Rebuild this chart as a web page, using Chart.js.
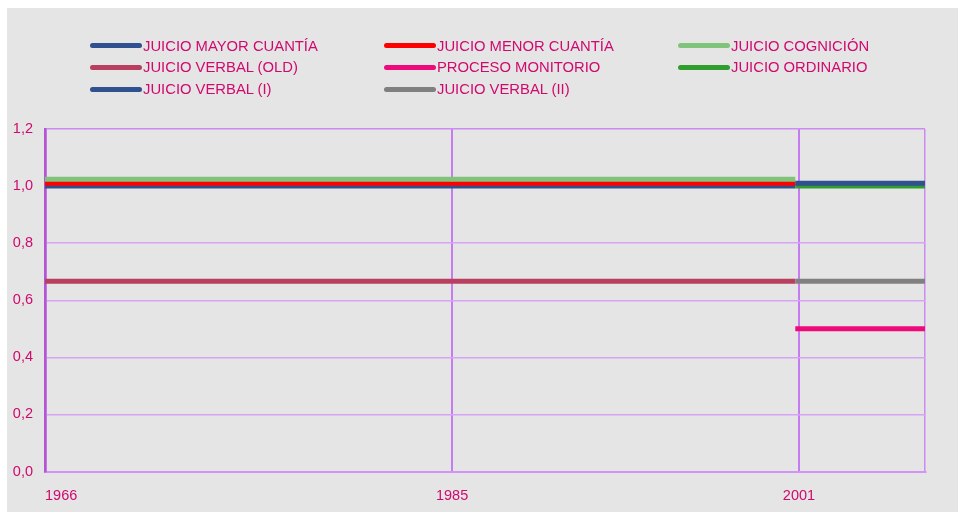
<!DOCTYPE html>
<html><head><meta charset="utf-8">
<script src="https://cdn.jsdelivr.net/npm/chart.js@4.4.0/dist/chart.umd.min.js"></script>
<style>
html,body{margin:0;padding:0;background:#ffffff;}
#wrap{position:absolute;left:7px;top:8px;width:951px;height:504px;background:#e5e5e5;overflow:hidden;}
#legend{position:absolute;left:0;top:0;width:951px;height:110px;}
.li{position:absolute;height:20px;display:flex;align-items:center;font-family:'Liberation Sans',Arial,sans-serif;font-size:14.8px;color:#d1096e;white-space:nowrap;}
.sw{width:52px;height:5px;border-radius:3px;margin-right:1px;flex:none;}
canvas{position:absolute;left:0;top:0;}
</style></head><body>
<div id="wrap"><canvas id="c" width="951" height="504"></canvas><div id="legend"></div></div>
<script>
// ---- data ----
const seriesNames = ['JUICIO MAYOR CUANTÍA','JUICIO MENOR CUANTÍA','JUICIO COGNICIÓN','JUICIO VERBAL (OLD)','PROCESO MONITORIO','JUICIO ORDINARIO','JUICIO VERBAL (I)','JUICIO VERBAL (II)'];
const seriesValues = [1.0, 1.01, 1.024, 0.667, 0.5, 1.0, 1.01, 0.667];
const seriesFrom = [1966.2, 1966.2, 1966.2, 1966.2, 2000.85, 2000.85, 2000.85, 2000.85];
const seriesTo   = [2000.85, 2000.85, 2000.85, 2000.85, 2006.84, 2006.84, 2006.84, 2006.84];
const xTickValues = [1966.2, 1985, 2001.02];
const xTickLabels = ['1966', '1985', '2001'];
const xMin = 1966.2, xMax = 2006.84;
const yMin = 0, yMax = 1.2, yStep = 0.2;

// ---- styles ----
const seriesColors = ['#30508f','#ff0000','#80c47c','#b83f5f','#ee0a7b','#2f9e2f','#30508f','#808080'];
const txt = '#d1096e';
const FONT = "'Liberation Sans', Arial, sans-serif";

// legend (HTML, 3 columns)
const legendCols = [83, 377, 671], legendRows = [27.7, 49.3, 71];
const lg = document.getElementById('legend');
seriesNames.forEach((n, i) => {
  const d = document.createElement('div');
  d.className = 'li';
  d.style.left = legendCols[i % 3] + 'px';
  d.style.top = legendRows[Math.floor(i / 3)] + 'px';
  const s = document.createElement('span'); s.className = 'sw'; s.style.background = seriesColors[i];
  const t = document.createElement('span'); t.textContent = n;
  d.appendChild(s); d.appendChild(t); lg.appendChild(d);
});

const datasets = seriesNames.map((n, i) => ({
  label: n,
  data: [{x: seriesFrom[i], y: seriesValues[i]}, {x: seriesTo[i], y: seriesValues[i]}],
  borderColor: seriesColors[i],
  backgroundColor: seriesColors[i],
  borderWidth: 5,
  pointRadius: 0,
  fill: false,
  clip: 0,
  order: -i
}));

new Chart(document.getElementById('c'), {
  type: 'line',
  data: { datasets },
  options: {
    responsive: false,
    animation: false,
    devicePixelRatio: 1,
    layout: { padding: { top: 121, right: 33, left: 0, bottom: 0 } },
    plugins: { legend: { display: false }, tooltip: { enabled: false } },
    elements: { line: { tension: 0, borderCapStyle: 'butt' } },
    scales: {
      x: {
        type: 'linear', min: xMin, max: xMax, z: 1,
        afterBuildTicks: s => { s.ticks = xTickValues.concat([xMax]).map(v => ({ value: v })); },
        afterFit: s => { s.height = 40.5; },
        ticks: {
          align: 'inner', padding: 16, color: txt, maxRotation: 0, autoSkip: false,
          font: { family: FONT, size: 14.5 },
          callback: (v, i) => (i < xTickLabels.length ? xTickLabels[i] : '')
        },
        grid: {
          drawTicks: false,
          color: c => c.index === 0 ? '#b455d6' : (c.index === xTickValues.length ? '#cc8cf2' : '#c57cf2'),
          lineWidth: c => c.index === 0 ? 2.5 : (c.index === xTickValues.length ? 1.5 : 2)
        },
        border: { color: '#d493f7', width: 2 }
      },
      y: {
        min: yMin, max: yMax,
        afterFit: s => { s.width = 38; },
        ticks: {
          stepSize: yStep, padding: 12, color: txt,
          font: { family: FONT, size: 14.5 },
          callback: v => Number(v).toFixed(1).replace('.', ',')
        },
        grid: {
          drawTicks: false,
          color: c => Math.abs(c.tick.value - yMax) < 1e-6 ? '#cc8cf2' : '#d8a2f7',
          lineWidth: 1.5
        },
        border: { color: '#b455d6', width: 2.5 }
      }
    }
  }
});
</script>
</body></html>
